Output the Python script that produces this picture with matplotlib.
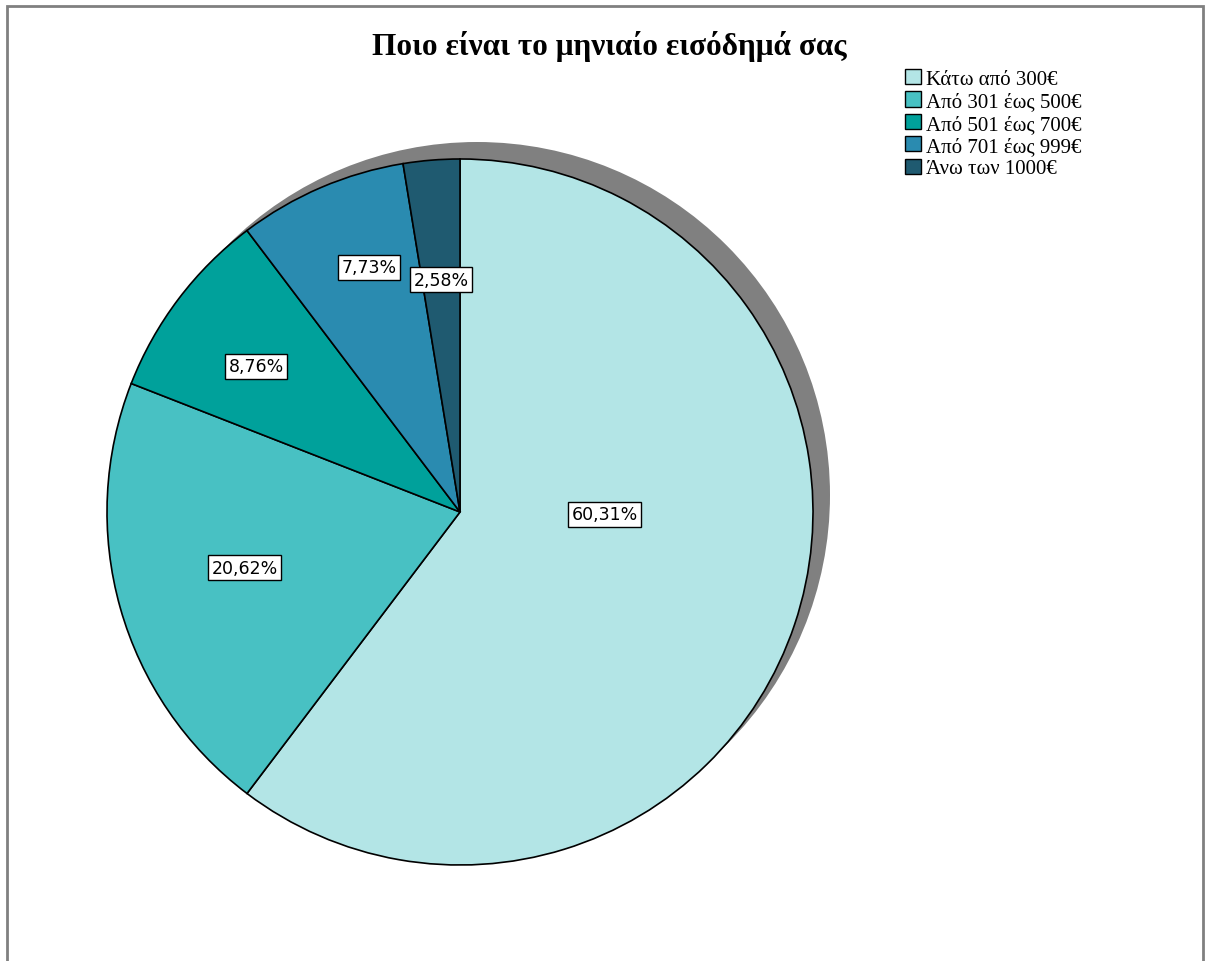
import matplotlib.pyplot as plt
import matplotlib.patches as mpatches
import numpy as np

# δεδομένα
categories = ['Κάτω από 300€', 'Από 301 έως 500€', 'Από 501 έως 700€',
              'Από 701 έως 999€', 'Άνω των 1000€']
percentages = [60.31, 20.62, 8.76, 7.73, 2.58]
colors = ['#b3e5e6', '#48c1c3', '#00a19b', '#2a8bb0', '#1f5a70']
title = 'Ποιο είναι το μηνιαίο εισόδημά σας'

# θέση ετικετών: απόσταση (κλάσμα ακτίνας) και μετατόπιση γωνίας (μοίρες)
label_r = [0.41, 0.63, 0.71, 0.74, 0.66]
label_shift = [17.6, -1.2, 1.5, -2.8, 0.0]

W, H = 1211, 962
fig = plt.figure(figsize=(W / 100, H / 100), dpi=100)

# πλαίσιο γύρω από το γράφημα
fig.patches.append(mpatches.Rectangle((7 / W, -0.02), (1203 - 7) / W, 1.02 - 7 / H,
                                      transform=fig.transFigure, fill=False,
                                      edgecolor='#808080', linewidth=2))

cx, cy, R = 460, 513, 353
ax = fig.add_axes([(cx - R) / W, (H - cy - R) / H, 2 * R / W, 2 * R / H])

# σκιά
ax.add_patch(mpatches.Circle((17 / R, 17 / R), 1.0, facecolor='#808080',
                             edgecolor='none', zorder=0, clip_on=False))

wedges, texts = ax.pie(percentages, colors=colors, startangle=90, counterclock=False,
                       radius=1.0, wedgeprops=dict(edgecolor='black', linewidth=1.2,
                                                   clip_on=False),
                       frame=True)
ax.set_xlim(-1, 1)
ax.set_ylim(-1, 1)
ax.axis('off')

for w, p, r, s in zip(wedges, percentages, label_r, label_shift):
    ang = np.deg2rad((w.theta1 + w.theta2) / 2 + s)
    ax.text(r * np.cos(ang), r * np.sin(ang), f'{p:.2f}%'.replace('.', ','),
            ha='center', va='center', fontsize=12.5, family='DejaVu Sans', zorder=5,
            bbox=dict(boxstyle='square,pad=0.2', facecolor='white',
                      edgecolor='black', linewidth=1))

fig.text(609 / W, 1 - 47 / H, title, ha='center', va='center',
         fontsize=22.5, fontweight='bold', family='Liberation Serif')

handles = [mpatches.Patch(facecolor=c, edgecolor='black', linewidth=1) for c in colors]
fig.legend(handles, categories, loc='upper left', bbox_to_anchor=(905 / W, 1 - 70 / H),
           frameon=False, prop=dict(family='Liberation Serif', size=15),
           handlelength=0.75, handleheight=0.75, handletextpad=0.25,
           labelspacing=0.12, borderpad=0, borderaxespad=0)

plt.savefig('out.png', dpi=100)
plt.close()
